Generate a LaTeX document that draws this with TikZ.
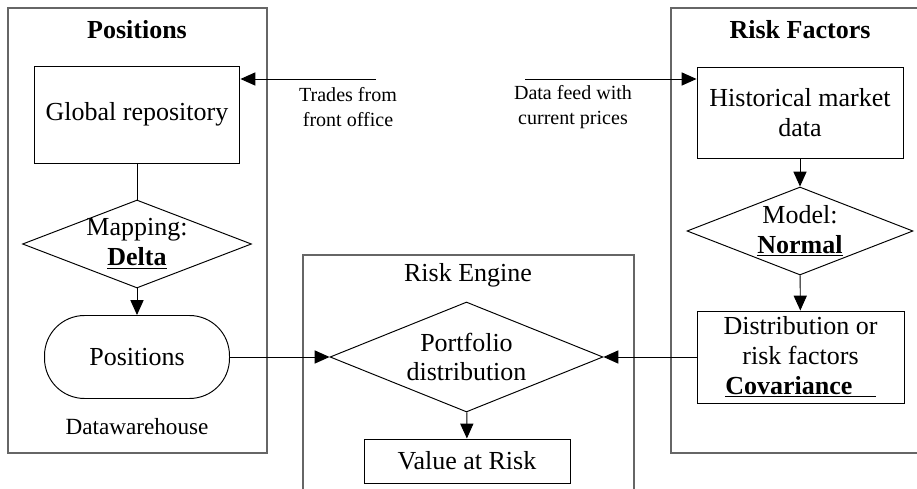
\documentclass[tikz,border=0pt]{standalone}
\usepackage{fontspec}
\setmainfont{Liberation Serif}
\usetikzlibrary{shapes.geometric,arrows.meta}

\tikzstyle{fleche}=[-{Triangle[length=8.5pt,width=7.5pt]},line width=0.55pt]
\tikzstyle{trait}=[line width=0.55pt]
\tikzstyle{cadre}=[draw=black!60,line width=0.7pt]
\tikzstyle{texte}=[align=center,inner sep=0pt,font=\fontsize{14.8}{17}\selectfont]
\tikzstyle{titre}=[texte,font=\fontsize{14.8}{17}\selectfont\bfseries]
\tikzstyle{petit}=[align=center,inner sep=0pt,font=\fontsize{11.4}{14.2}\selectfont]
\tikzstyle{boite}=[texte,draw,line width=0.55pt,rectangle]
\tikzstyle{losange}=[draw,line width=0.55pt,diamond,inner sep=0pt]

\begin{document}
\begin{tikzpicture}[x=0.02cm,y=-0.02cm]
\useasboundingbox (0,0) rectangle (917,489);
  % cadres
\draw[cadre] (8,8) rectangle (267,453);
\draw[cadre] (917,8) -- (671,8) -- (671,453) -- (917,453);
\draw[cadre] (303,489) -- (303,255) -- (634,255) -- (634,489);
\node[titre] (tpos) at (137,30) {Positions};
\node[titre] (trisk) at (800,30) {Risk Factors};
\node[texte] (teng) at (468,275) {Risk Engine};
  % positions
\node[boite,minimum width=4.12cm,minimum height=1.94cm] (grepo) at (137,114.5) {Global repository};
\node[losange,minimum width=4.58cm,minimum height=1.76cm] (map) at (137,244) {};
\node[texte] (maptxt) at (map) {Mapping:\\\underline{\textbf{Delta}}};
\node[boite,rounded corners=0.8cm,minimum width=3.7cm,minimum height=1.66cm] (pos) at (137,357) {Positions};
\node[texte,font=\fontsize{13.2}{16}\selectfont] (dwh) at (137,427) {Datawarehouse};
  % risk factors
\node[boite,minimum width=4.12cm,minimum height=1.82cm] (hist) at (800,112.5) {Historical market\\data};
\node[losange,minimum width=4.52cm,minimum height=1.76cm] (model) at (800,231) {};
\node[texte] (modeltxt) at (model) {Model:\\\underline{\textbf{Normal}}};
\node[boite,minimum width=4.14cm,minimum height=1.84cm] (distr) at (800.5,357) {Distribution or\\risk factors\\\underline{\textbf{Covariance}\hspace{0.9em}}};
  % risk engine
\node[losange,minimum width=5.46cm,minimum height=2.2cm] (port) at (466.5,357) {};
\node[texte] (porttxt) at (port) {Portfolio\\distribution};
\node[boite,minimum width=4.12cm,minimum height=0.88cm] (var) at (467,461) {Value at Risk};
  % entrees
\coordinate (trades) at (376,79);
\coordinate (feed) at (525,79);
\node[petit] (ttrades) at (348,107) {Trades from\\front office};
\node[petit] (tfeed) at (573,107) {Data feed with\\current prices};
  % liens
\draw[fleche] (trades) -- (trades -| grepo.east);
\draw[fleche] (feed) -- (feed -| hist.west);
\draw[trait] (grepo) -- (map);
\draw[fleche] (map) -- (pos);
\draw[fleche] (pos) -- (port.west);
\draw[fleche] (hist) -- (model);
\draw[fleche] (model) -- (distr);
\draw[fleche] (distr) -- (port.east);
\draw[fleche] (port) -- (var);
\end{tikzpicture}
\end{document}
